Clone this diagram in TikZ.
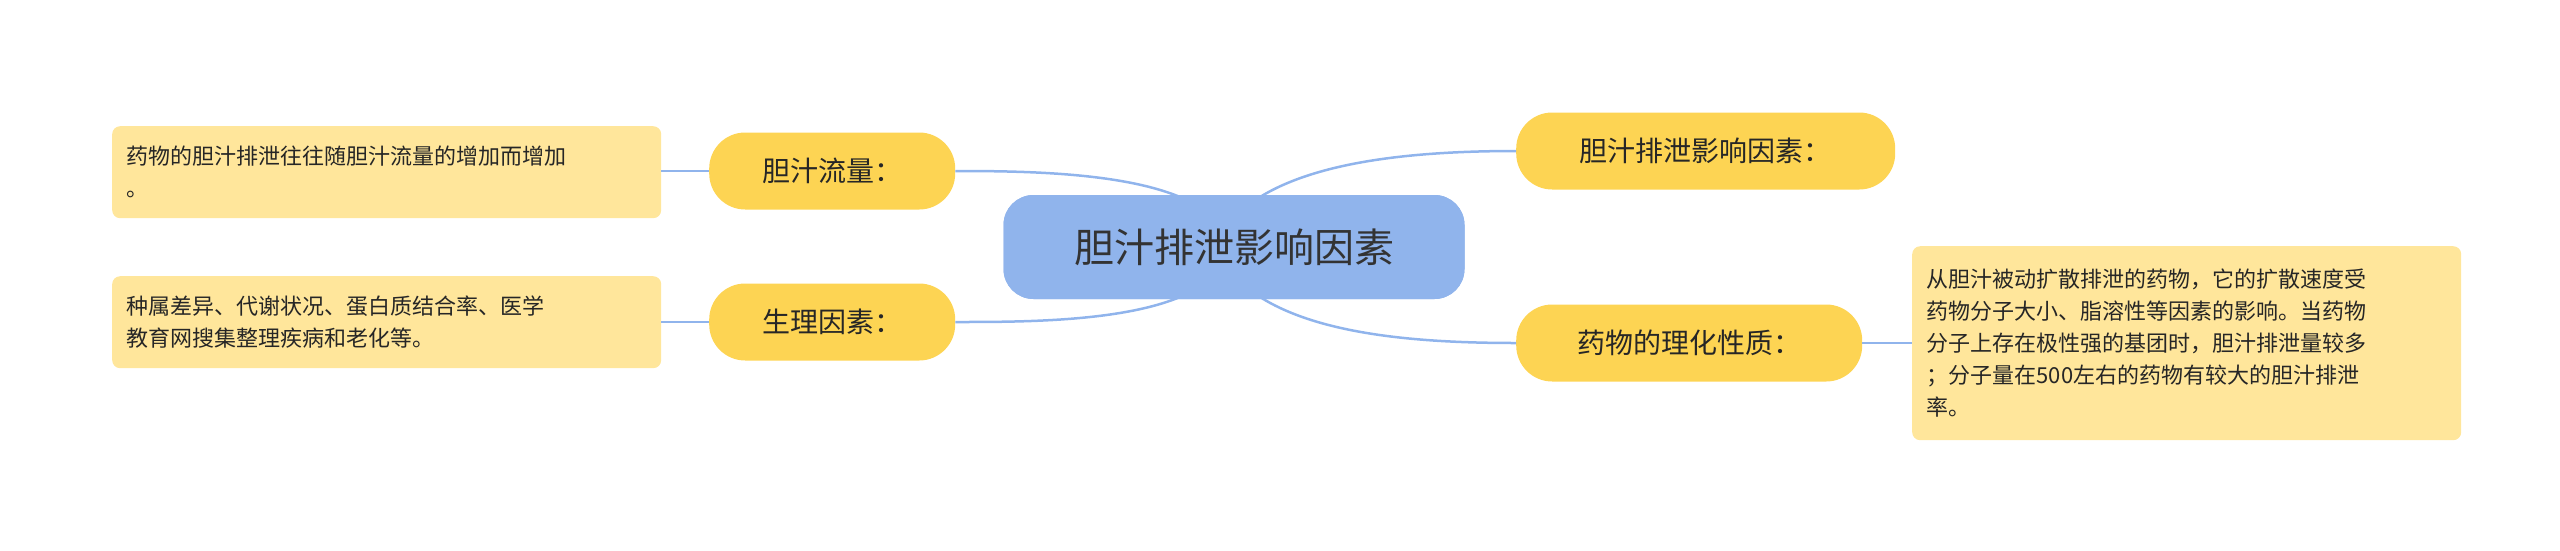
\documentclass[tikz,border=0pt]{standalone}
\usepackage{fontspec}
\setmainfont{Noto Sans CJK SC}
\begin{document}
\begin{tikzpicture}[x=1pt,y=-1pt,
  center/.style={draw=none,fill=cblue,rounded corners=30pt,minimum width=461pt,minimum height=104pt,font=\fontsize{40}{48}\selectfont,text=black!80},
  branch/.style={draw=none,fill=cyel,rounded corners=36pt,minimum height=77pt,font=\fontsize{28}{34}\selectfont,text=black!85,anchor=west},
  leaf/.style={draw=none,fill=cleaf,rounded corners=8pt,font=\fontsize{22}{32}\selectfont,text=black!85,align=left,anchor=north west,inner xsep=12pt,inner ysep=10pt,minimum width=549pt,text width=520pt},
  conn/.style={draw=cline,line width=2.5pt}]
\definecolor{cblue}{HTML}{90B4EC}
\definecolor{cyel}{HTML}{FDD453}
\definecolor{cleaf}{HTML}{FFE69B}
\definecolor{cline}{HTML}{90B4EC}
\useasboundingbox (0,0) rectangle (2560,550);
\node[center] (c) at (1234,247) {胆汁排泄影响因素};
\node[branch,minimum width=379pt] (r1) at (1516,151) {胆汁排泄影响因素：};
\node[branch,minimum width=346pt] (r2) at (1516,343) {药物的理化性质：};
\node[branch,minimum width=246pt] (l1) at (709,171) {胆汁流量：};
\node[branch,minimum width=246pt] (l2) at (709,322) {生理因素：};
\node[leaf,minimum height=194pt] (rl) at (1912,246) {从胆汁被动扩散排泄的药物，它的扩散速度受\\药物分子大小、脂溶性等因素的影响。当药物\\分子上存在极性强的基团时，胆汁排泄量较多\\；分子量在500左右的药物有较大的胆汁排泄\\率。};
\node[leaf,minimum height=92pt] (ll1) at (112,126) {药物的胆汁排泄往往随胆汁流量的增加而增加\\。};
\node[leaf,minimum height=92pt] (ll2) at (112,276) {种属差异、代谢状况、蛋白质结合率、医学\\教育网搜集整理疾病和老化等。};
\draw[conn] (1260,197) .. controls (1320,160) and (1420,151) .. (r1.west);
\draw[conn] (1260,297) .. controls (1320,335) and (1420,343) .. (r2.west);
\draw[conn] (1180,197) .. controls (1120,172) and (1020,171) .. (l1.east);
\draw[conn] (1180,297) .. controls (1120,322) and (1020,322) .. (l2.east);
\draw[conn] (r2.east) -- (rl.west |- r2.east);
\draw[conn] (l1.west) -- (ll1.east |- l1.west);
\draw[conn] (l2.west) -- (ll2.east |- l2.west);
\node[center] at (c) {胆汁排泄影响因素};
\end{tikzpicture}
\end{document}
